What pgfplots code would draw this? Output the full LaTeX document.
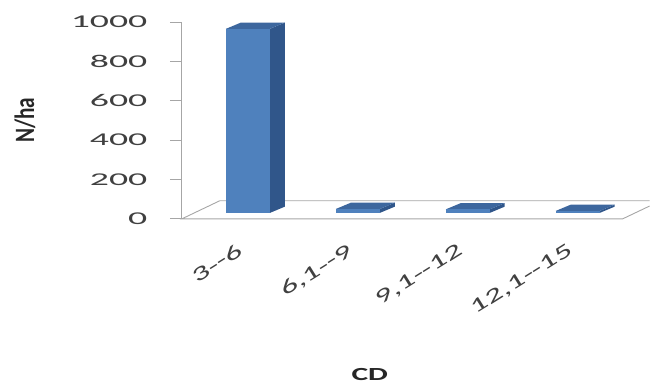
\documentclass[border=0pt]{standalone}
\usepackage{pgfplots}
\pgfplotsset{compat=1.18}
\usepackage{fontspec}
\setmainfont{Carlito}
\newfontfamily\numfont[FakeStretch=2.1]{Carlito}
\newfontfamily\catfont[FakeStretch=1.7]{Carlito}
\newfontfamily\cdfont[FakeStretch=1.7]{Carlito}
\newfontfamily\ylabfont[FakeStretch=0.76]{Carlito}

\definecolor{barfront}{HTML}{4F81BD}
\definecolor{barside}{HTML}{30568A}
\definecolor{bartop}{HTML}{3D679E}
\definecolor{linegray}{HTML}{A6A6A6}
\definecolor{labelgray}{HTML}{404040}

% geometry of the 3-D columns (axis units)
\def\base{30}   % height of the column foot above the floor front edge
\def\ddx{0.137} % horizontal depth offset
\def\ddy{32}    % vertical depth offset
\def\hw{0.2}    % half width of the front face

% \threedbar{position}{value}: side, top and front faces of one column
\newcommand\threedbar[2]{%
  \pgfmathsetmacro\xl{#1-\hw}%
  \pgfmathsetmacro\xr{#1+\hw}%
  \pgfmathsetmacro\xlb{#1-\hw+\ddx}%
  \pgfmathsetmacro\xrb{#1+\hw+\ddx}%
  \pgfmathsetmacro\yt{\base+#2}%
  \pgfmathsetmacro\ybb{\base+\ddy}%
  \pgfmathsetmacro\ytb{\base+#2+\ddy}%
  \edef\drawbar{%
    \noexpand\addplot[fill=barside,draw=none] coordinates {(\xr,\base) (\xrb,\ybb) (\xrb,\ytb) (\xr,\yt)} -- cycle;
    \noexpand\addplot[fill=bartop,draw=none] coordinates {(\xl,\yt) (\xr,\yt) (\xrb,\ytb) (\xlb,\ytb)} -- cycle;
    \noexpand\addplot[fill=barfront,draw=none] coordinates {(\xl,\base) (\xr,\base) (\xr,\yt) (\xl,\yt)} -- cycle;
  }%
  \drawbar}

\begin{document}
\begin{tikzpicture}
\path (0,0) rectangle (650bp,385bp);
\begin{axis}[
  at={(182bp,166bp)}, anchor=south west,
  scale only axis, width=468bp, height=197bp,
  xmin=-0.6, xmax=3.6545, ymin=0, ymax=1000,
  clip=false,
  axis y line*=left,
  axis x line*=bottom,
  x axis line style={draw=none},
  y axis line style={draw=linegray, line width=0.9bp, -},
  xtick={0,1,2,3},
  xticklabels={{3-{}-6},{6,1-{}-9},{9,1-{}-12},{12,1-{}-15}},
  major x tick style={draw=none},
  ytick={0,200,...,1000},
  tick align=outside,
  major tick length=12bp,
  major y tick style={draw=linegray, line width=0.9bp},
  /pgf/number format/assume math mode=true,
  /pgf/number format/1000 sep={},
  yticklabel style={font=\fontsize{18bp}{20bp}\numfont, text=labelgray, xshift=-19bp},
  xticklabel style={font=\fontsize{20bp}{22bp}\catfont, text=labelgray,
    rotate=32, anchor=north east, inner sep=0pt, xshift=-15bp, yshift=-4bp},
  ylabel={N/ha},
  ylabel style={font=\bfseries\fontsize{28bp}{30bp}\ylabfont, text=black!85,
    at={(axis description cs:-0.3355,0.5)}, anchor=center},
  xlabel={CD},
  xlabel style={font=\bfseries\fontsize{18.5bp}{20bp}\cdfont, text=black!85,
    at={(axis description cs:0.4017,-0.792)}, anchor=center},
]
% floor outline
\addplot[draw=linegray, line width=0.9bp] coordinates
  {(3.6545,65) (3.41,0) (-0.6,0) (-0.255,92) (3.6545,92)};
% columns
\threedbar{0}{935}
\threedbar{1}{20}
\threedbar{2}{18}
\threedbar{3}{10}
\end{axis}
\end{tikzpicture}
\end{document}
